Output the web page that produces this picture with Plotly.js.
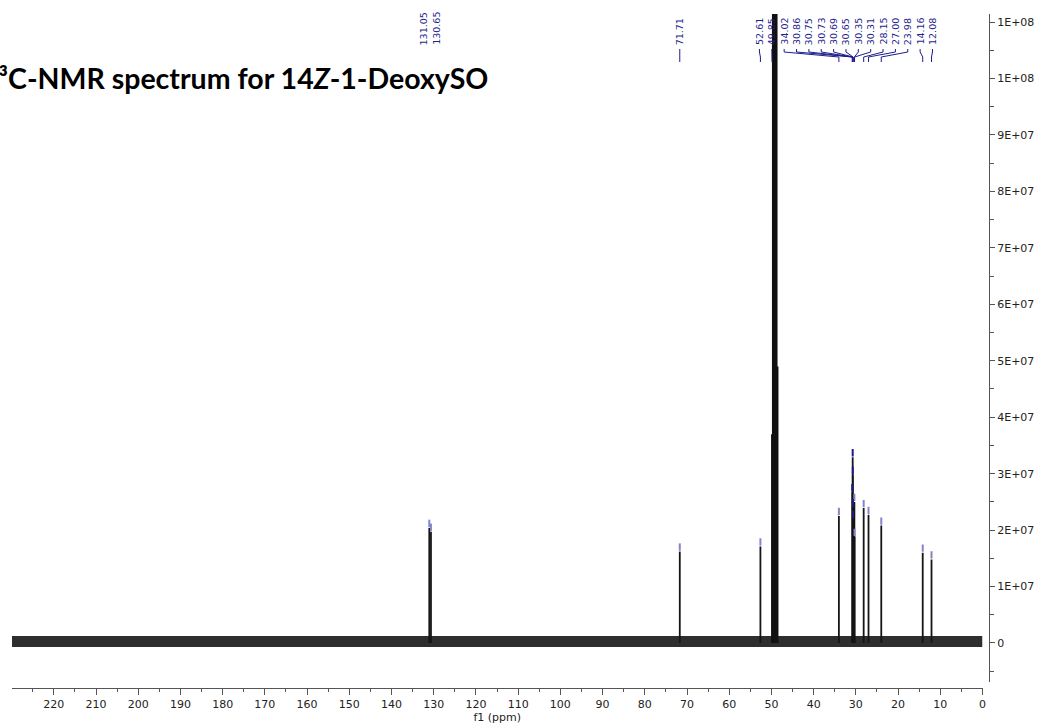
<!DOCTYPE html>
<html>
<head>
<meta charset="utf-8">
<script src="https://cdn.plot.ly/plotly-3.0.1.min.js"></script>
<style>html,body{margin:0;padding:0;background:#fff;}#chart{width:1039px;height:726px;}</style>
</head>
<body>
<div id="chart"></div>
<script>
// ---------- data ----------
const ppmRange = [229.9, 0];
const intensityRange = [-6.91e6, 1.1143e8];

const xTickVals = [0,10,20,30,40,50,60,70,80,90,100,110,120,130,140,150,160,170,180,190,200,210,220];
const xTickText = ["0","10","20","30","40","50","60","70","80","90","100","110","120","130","140","150","160","170","180","190","200","210","220"];
const yTickVals = [0,1e7,2e7,3e7,4e7,5e7,6e7,7e7,8e7,9e7,1e8,1.1e8];
const yTickText = ["0","1E+07","2E+07","3E+07","4E+07","5E+07","6E+07","7E+07","8E+07","9E+07","1E+08","1E+08"];

// sample peaks (ppm, height)
const peakPpm    = [131.05, 130.65, 71.71, 52.61, 34.02, 30.86, 30.75, 30.73, 30.69, 30.65, 30.35, 30.31, 28.15, 27.00, 23.98, 14.16, 12.08];
const peakHeight = [2.04e7, 1.97e7, 1.62e7, 1.71e7, 2.25e7, 2.67e7, 3.29e7, 2.98e7, 2.40e7, 2.20e7, 2.50e7, 1.88e7, 2.39e7, 2.27e7, 2.08e7, 1.60e7, 1.48e7];

// solvent (CD3OD) septet
const solventPpm    = [49.85, 49.64, 49.43, 49.21, 49.00, 48.79, 48.57];
const solventHeight = [3.7e7, 1.25e8, 2.4e8, 2.8e8, 2.4e8, 1.2e8, 4.9e7];

// baseline noise level
const baselinePpm = [229.9, 0];
const baselineLevel = [2.5e5, 2.5e5];

// peak labels
const labelText = ["131.05","130.65","71.71","52.61","49.85","34.02","30.86","30.75","30.73","30.69","30.65","30.35","30.31","28.15","27.00","23.98","14.16","12.08"];

const titleText = "<b>¹³C-NMR spectrum for 14<i>Z</i>-1-DeoxySO</b>";

// ---------- layout geometry ----------
const W = 1039, H = 726;
const M = {l: 12, r: 50, t: 14, b: 38};
const plotW = W - M.l - M.r;      // 977
const plotH = H - M.t - M.b;      // 674
const xEndPx = 982.5;             // pixel of 0 ppm
const xDomEnd = (xEndPx - M.l) / plotW;
const yDomStart = 6 / plotH;
const yAxisPxH = plotH * (1 - yDomStart);
const pxPerPpm = (xEndPx - M.l) / (ppmRange[0] - ppmRange[1]);
const ppmToPx = p => xEndPx - p * pxPerPpm;
const pxToPpm = px => (xEndPx - px) / pxPerPpm;

// ---------- traces ----------
function sticks(xs, hs) {
  const x = [], y = [];
  xs.forEach((p, i) => { x.push(p, p, null); y.push(0, hs[i], null); });
  return {x, y};
}
const traces = [];

traces.push({
  x: baselinePpm, y: baselineLevel, type: 'scatter', mode: 'lines',
  line: {color: '#2e2e2e', width: 11}, hoverinfo: 'skip', showlegend: false
});

const s1 = sticks(peakPpm, peakHeight);
traces.push({x: s1.x, y: s1.y, type: 'scatter', mode: 'lines',
  line: {color: '#151515', width: 1.8}, hoverinfo: 'skip', showlegend: false});

const s2 = sticks(solventPpm, solventHeight);
traces.push({x: s2.x, y: s2.y, type: 'scatter', mode: 'lines',
  line: {color: '#111', width: 2}, hoverinfo: 'skip', showlegend: false});

// peak-top markers
const mkLight = {x: [], y: []}, mkDark = {x: [], y: []};
peakPpm.forEach((p, i) => {
  const tgt = (p > 30.6 && p < 30.9) ? mkDark : mkLight;
  tgt.x.push(p, p, null);
  tgt.y.push(peakHeight[i] + 1.5e5, peakHeight[i] + 1.45e6, null);
});
traces.push({x: mkLight.x, y: mkLight.y, type: 'scatter', mode: 'lines',
  line: {color: '#8383d0', width: 2}, hoverinfo: 'skip', showlegend: false});
traces.push({x: mkDark.x, y: mkDark.y, type: 'scatter', mode: 'lines',
  line: {color: '#1c1c88', width: 2}, hoverinfo: 'skip', showlegend: false});

// ---------- label placement (spread overlapping labels) ----------
const spacing = 12.36;
const labelVals = labelText.map(Number);
const peakPx = labelVals.map(ppmToPx);
let groups = peakPx.map((px, i) => [i]);
function groupPos(g) {
  const c = (peakPx[g[0]] + peakPx[g[g.length - 1]]) / 2;
  const start = c - spacing * (g.length - 1) / 2;
  return g.map((_, k) => start + k * spacing);
}
let merged = true;
while (merged) {
  merged = false;
  for (let i = 0; i < groups.length - 1; i++) {
    const a = groupPos(groups[i]), b = groupPos(groups[i + 1]);
    if (b[0] - a[a.length - 1] < 4 * spacing) {
      groups.splice(i, 2, groups[i].concat(groups[i + 1]));
      merged = true; break;
    }
  }
}
const annotations = [];
const leader = {x: [], y: []};
groups.forEach((g, gi) => {
  const pos = groupPos(g);
  g.forEach((idx, k) => {
    const L = pos[k];
    annotations.push({
      xref: 'x', yref: 'y2', x: pxToPpm(L), y: 46 - M.t,
      xanchor: 'center', yanchor: 'bottom', textangle: -90,
      text: labelText[idx], showarrow: false, borderpad: 0,
      font: {family: 'DejaVu Sans', size: 9.5, color: '#1e1e8c'}
    });
    if (gi > 0) {
      const P = peakPx[idx];
      leader.x.push(pxToPpm(L), pxToPpm(L), pxToPpm(P), pxToPpm(P), null);
      leader.y.push(49 - M.t, 52 - M.t, 57 - M.t, 62 - M.t, null);
    }
  });
});
traces.push({x: leader.x, y: leader.y, xaxis: 'x', yaxis: 'y2', type: 'scatter', mode: 'lines',
  line: {color: '#1e1e8c', width: 1}, hoverinfo: 'skip', showlegend: false});

annotations.push({
  xref: 'paper', yref: 'paper', x: (490 - M.l) / plotW, y: (H - M.b - 78) / plotH,
  xanchor: 'right', yanchor: 'middle', showarrow: false, text: titleText,
  font: {family: 'Lato', size: 28.5, color: '#000'}
});

const axisColor = '#555';
const tickFont = {family: 'DejaVu Sans', size: 11, color: '#222'};
const layout = {
  width: W, height: H, margin: M,
  paper_bgcolor: '#fff', plot_bgcolor: '#fff',
  showlegend: false,
  xaxis: {
    range: ppmRange, domain: [0, xDomEnd], anchor: 'free', position: 0,
    showline: true, linecolor: axisColor, linewidth: 1,
    ticks: 'outside', ticklen: 6, tickcolor: axisColor, tickwidth: 1,
    tickmode: 'array', tickvals: xTickVals, ticktext: xTickText, tickfont: tickFont,
    minor: {tickmode: 'linear', tick0: 0, dtick: 5, ticks: 'outside', ticklen: 3, tickcolor: axisColor, showgrid: false},
    showgrid: false, zeroline: false,
    title: {text: 'f1 (ppm)', font: tickFont, standoff: 0}
  },
  yaxis: {
    range: intensityRange, domain: [yDomStart, 1], anchor: 'free', position: 1, side: 'right',
    showline: true, linecolor: axisColor, linewidth: 1,
    ticks: 'outside', ticklen: 5, tickcolor: axisColor, tickwidth: 1,
    tickmode: 'array', tickvals: yTickVals, ticktext: yTickText, tickfont: tickFont,
    minor: {tickmode: 'linear', tick0: 0, dtick: 5e6, ticks: 'outside', ticklen: 4, tickcolor: axisColor, showgrid: false},
    showgrid: false, zeroline: false
  },
  yaxis2: {
    overlaying: 'y', range: [yAxisPxH, 0], visible: false, anchor: 'free', position: 1
  },
  annotations: annotations
};

Plotly.newPlot('chart', traces, layout, {staticPlot: true, displayModeBar: false});
</script>
</body>
</html>
